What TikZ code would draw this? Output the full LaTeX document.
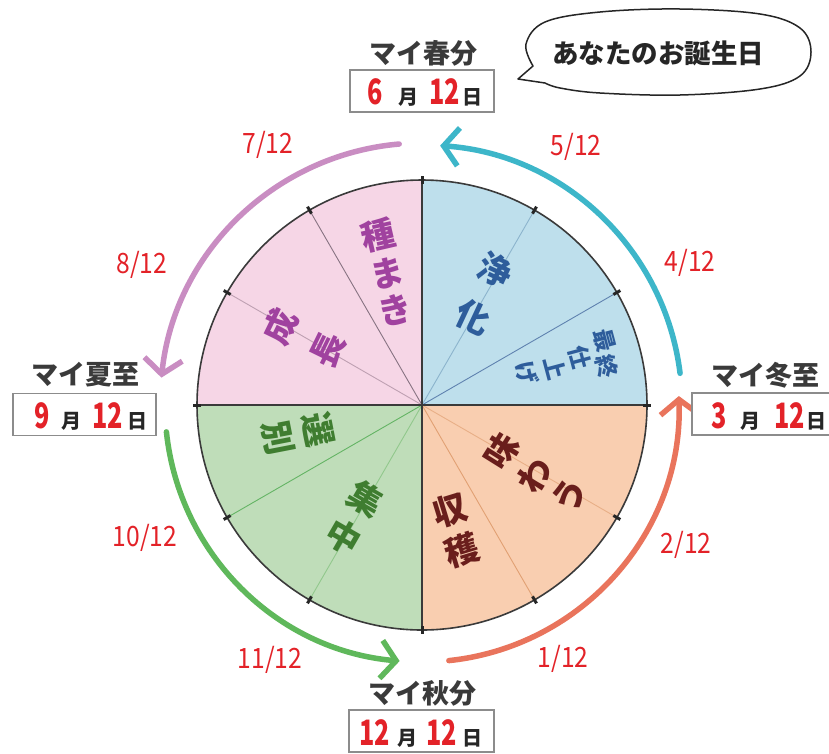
\documentclass[tikz,border=0pt]{standalone}
\usepackage{fontspec}
\usepackage{graphicx}
\newfontfamily\jp{Noto Sans CJK JP}
\usetikzlibrary{arrows.meta}
\definecolor{bluefill}{HTML}{BEDFEC}
\definecolor{pinkfill}{HTML}{F6D6E6}
\definecolor{greenfill}{HTML}{BFDDB9}
\definecolor{orangefill}{HTML}{F9CEB0}
\definecolor{bluetxt}{HTML}{2E5D9B}
\definecolor{pinktxt}{HTML}{A0429F}
\definecolor{greentxt}{HTML}{3F7D30}
\definecolor{browntxt}{HTML}{6A1E1C}
\definecolor{tealarr}{HTML}{3DB6C9}
\definecolor{pinkarr}{HTML}{C98DC2}
\definecolor{greenarr}{HTML}{5FB85B}
\definecolor{orangearr}{HTML}{E9745C}
\definecolor{numred}{HTML}{E32228}
\definecolor{titlegray}{HTML}{3A3A3A}
\definecolor{boxgray}{HTML}{8C8C8C}
\definecolor{rimgray}{HTML}{3A3A3A}
\newcommand{\myrn}[1]{\textcolor{numred}{\fontsize{35}{35}\selectfont\scalebox{0.72}[1]{#1}}}
\newcommand{\mykj}[1]{{\fontsize{20}{20}\selectfont #1}}
\newcommand{\myfr}[1]{\scalebox{0.88}[1]{#1}}
\tikzset{
  sec/.style={font=\jp\bfseries\fontsize{34}{34}\selectfont, inner sep=0pt},
  secs/.style={font=\jp\bfseries\fontsize{23}{23}\selectfont, inner sep=0pt},
  title/.style={font=\jp\bfseries\fontsize{27}{27}\selectfont, text=titlegray, inner sep=0pt},
  datebox/.style={draw=boxgray, line width=1.2pt, fill=white, minimum height=42pt, inner sep=0pt},
  datetxt/.style={font=\jp\bfseries, text=black!85, inner sep=0pt},
  frac/.style={font=\jp\fontsize{28}{28}\selectfont, text=numred, inner sep=0pt},
  arr/.style={line width=5.5pt, line cap=round, line join=round, -{Straight Barb[length=15pt,width=38pt]}},
  divline/.style={line width=0.9pt},
}
\begin{document}
\begin{tikzpicture}[x=1pt,y=-1pt]
\useasboundingbox (0,0) rectangle (829,753);
\fill[white] (0,0) rectangle (829,753);

% pie chart
\begin{scope}[shift={(422,405)}, y=1pt]
  \fill[bluefill] (0,0) -- (0:225) arc[start angle=0,end angle=90,radius=225] -- cycle;
  \fill[pinkfill] (0,0) -- (90:225) arc[start angle=90,end angle=180,radius=225] -- cycle;
  \fill[greenfill] (0,0) -- (180:225) arc[start angle=180,end angle=270,radius=225] -- cycle;
  \fill[orangefill] (0,0) -- (270:225) arc[start angle=270,end angle=360,radius=225] -- cycle;
  \draw[divline, color={rgb,255:red,95;green,130;blue,175}] (0,0) -- (30:225);
  \draw[divline, color={rgb,255:red,140;green,180;blue,205}] (0,0) -- (60:225);
  \draw[divline, color={rgb,255:red,135;green,115;blue,130}] (0,0) -- (120:225);
  \draw[divline, color={rgb,255:red,190;green,160;blue,178}] (0,0) -- (150:225);
  \draw[divline, color={rgb,255:red,100;green,180;blue,100}] (0,0) -- (210:225);
  \draw[divline, color={rgb,255:red,145;green,200;blue,140}] (0,0) -- (240:225);
  \draw[divline, color={rgb,255:red,225;green,160;blue,115}] (0,0) -- (300:225);
  \draw[divline, color={rgb,255:red,232;green,175;blue,135}] (0,0) -- (330:225);
  \draw[line width=1.4pt, rimgray] (-225,0) -- (225,0);
  \draw[line width=1.4pt, rimgray] (0,-225) -- (0,225);
  \draw[line width=1.6pt, rimgray] (0,0) circle (225);
  \foreach \a in {0,30,...,330} \draw[line width=3pt, black!85] (\a:221) -- (\a:229);
  % cycle arrows
  \draw[arr, tealarr] (7:260) arc[start angle=7, end angle=86, radius=260];
  \draw[arr, pinkarr] (95:262) arc[start angle=95, end angle=174, radius=262];
  \draw[arr, greenarr] (186:257) arc[start angle=186, end angle=265, radius=257];
  \draw[arr, orangearr] (276:257) arc[start angle=276, end angle=362, radius=257];
\end{scope}

% sector labels
\node[sec, text=pinktxt, rotate=13] (p1) at (378,235) {種};
\node[sec, text=pinktxt, rotate=13] (p2) at (387,273) {ま};
\node[sec, text=pinktxt, rotate=13] (p3) at (395,310) {き};
\node[sec, text=pinktxt, rotate=64] (p4) at (280,327) {成};
\node[sec, text=pinktxt, rotate=64] (p5) at (328,350) {長};

\node[sec, text=bluetxt, rotate=-25] (b1) at (495,270) {浄};
\node[sec, text=bluetxt, rotate=-25] (b2) at (473,317) {化};
\node[secs, text=bluetxt, rotate=-75] (b3) at (605,340) {最};
\node[secs, text=bluetxt, rotate=-75] (b4) at (607,366) {終};
\node[secs, text=bluetxt, rotate=-75] (b5) at (580,357) {仕};
\node[secs, text=bluetxt, rotate=-75] (b6) at (555,368) {上};
\node[secs, text=bluetxt, rotate=-75] (b7) at (527,373) {げ};

\node[sec, text=greentxt, rotate=-79] (g1) at (318,430) {選};
\node[sec, text=greentxt, rotate=-79] (g2) at (278,438) {別};
\node[sec, text=greentxt, rotate=-30] (g3) at (366,499) {集};
\node[sec, text=greentxt, rotate=-30] (g4) at (344,537) {中};

\node[sec, text=browntxt, rotate=58] (o1) at (502,451) {味};
\node[sec, text=browntxt, rotate=58] (o2) at (535,475) {わ};
\node[sec, text=browntxt, rotate=58] (o3) at (570,495) {う};
\node[sec, text=browntxt, rotate=17] (o4) at (450,510) {収};
\node[sec, text=browntxt, rotate=17] (o5) at (462,550) {穫};

% month fractions
\node[frac] (f5) at (576,147) {\myfr{5/12}};
\node[frac] (f4) at (690,263) {\myfr{4/12}};
\node[frac] (f7) at (268,145) {\myfr{7/12}};
\node[frac] (f8) at (142,265) {\myfr{8/12}};
\node[frac] (f10) at (145,538) {\myfr{10/12}};
\node[frac] (f11) at (270,660) {\myfr{11/12}};
\node[frac] (f2) at (686,545) {\myfr{2/12}};
\node[frac] (f1) at (563,659) {\myfr{1/12}};

% titles and date boxes
\node[title] (tS) at (423,53) {マイ春分};
\node[datebox, minimum width=144pt] (bS) at (422,91) {};
\node[datetxt] (dS) at (425,92) {\myrn{6}\hspace{15pt}\mykj{月}\hspace{11pt}\myrn{12}\hspace{2pt}\mykj{日}};

\node[title] (tW) at (85,375) {マイ夏至};
\node[datebox, minimum width=143pt] (bW) at (84.5,414.5) {};
\node[datetxt] (dW) at (91,416) {\myrn{9}\hspace{11pt}\mykj{月}\hspace{11pt}\myrn{12}\hspace{4pt}\mykj{日}};

\node[title] (tE) at (765,375) {マイ冬至};
\node[datebox, minimum width=140pt] (bE) at (762,414) {};
\node[datetxt] (dE) at (769,416) {\myrn{3}\hspace{13pt}\mykj{月}\hspace{14pt}\myrn{12}\hspace{1pt}\mykj{日}};

\node[title] (tN) at (422,693) {マイ秋分};
\node[datebox, minimum width=145pt] (bN) at (421.5,731) {};
\node[datetxt] (dN) at (421,733) {\myrn{12}\hspace{7pt}\mykj{月}\hspace{9pt}\myrn{12}\hspace{6pt}\mykj{日}};

% speech bubble
\draw[line width=1.5pt, draw=black!85, fill=white, line join=round]
  plot[smooth, tension=0.6] coordinates {(533,66) (526,44) (545,22) (600,12) (680,9) (760,14) (800,28) (811,52) (800,76) (760,89) (680,95) (600,93) (560,88) (545,83)}
  -- (518,79) -- cycle;
\node[font=\jp\bfseries\fontsize{26.5}{26.5}\selectfont, text=black!85, inner sep=0pt] (bub) at (658,53) {あなたのお誕生日};
\end{tikzpicture}
\end{document}
